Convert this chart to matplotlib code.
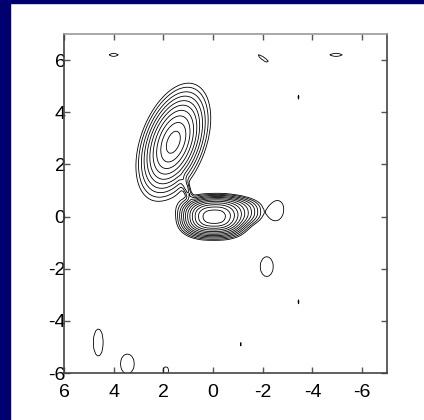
import numpy as np
import matplotlib
matplotlib.use("Agg")
import matplotlib.pyplot as plt
from matplotlib.patches import Rectangle

# Source components of the brightness map (x, y in axis units, angle in degrees)
# k: shape of the iso-lines (2 = ellipse, >2 = boxier), p: radial fall-off (2 = gaussian)
comp_x = [1.60, 1.05, -0.02, -0.55, 4.00, -2.03, -4.95, -3.43, -2.57, -2.16, -3.43, 4.62, 3.45, 1.90, -1.10]
comp_y = [2.85, 1.05, -0.03, 0.20, 6.20, 6.05, 6.20, 4.58, 0.23, -1.92, -3.27, -4.83, -5.65, -5.90, -4.90]
comp_amp = [0.38, 0.035, 0.70, 0.10, 0.025, 0.025, 0.025, 0.022, 0.024, 0.024, 0.022, 0.024, 0.024, 0.025, 0.022]
comp_sx = [0.84, 0.30, 0.56, 0.98, 0.27, 0.40, 0.37, 0.08, 0.35, 0.34, 0.08, 0.26, 0.36, 0.17, 0.08]
comp_sy = [0.46, 0.08, 0.33, 0.38, 0.10, 0.09, 0.10, 0.20, 0.49, 0.49, 0.20, 0.67, 0.49, 0.21, 0.20]
comp_ang = [112, 68, 0, 0, 0, 34, 0, 0, 10, 0, 0, 0, 0, 0, 0]
comp_k = [2.0, 2.0, 2.5, 2.5, 2, 2, 2, 2, 2, 2, 2, 2, 2, 2, 2]
comp_p = [1.7, 2.0, 2.0, 3.0, 2, 2, 2, 2, 4, 4, 2, 4, 4, 2, 2]

levels = [0.02, 0.028, 0.04, 0.055, 0.075, 0.10, 0.135, 0.18, 0.24, 0.32, 0.43, 0.58, 0.78]

xticks = [6, 4, 2, 0, -2, -4, -6]
yticks = [-6, -4, -2, 0, 2, 4, 6]

gx = np.arange(-7.2, 6.3, 0.08)
gy = np.arange(-6.2, 7.2, 0.08)
X, Y = np.meshgrid(gx, gy)
Z = np.zeros_like(X)
for x0, y0, a, sx, sy, ang, k, p in zip(comp_x, comp_y, comp_amp, comp_sx, comp_sy,
                                        comp_ang, comp_k, comp_p):
    t = np.deg2rad(ang)
    dx, dy = X - x0, Y - y0
    u = dx * np.cos(t) + dy * np.sin(t)
    v = -dx * np.sin(t) + dy * np.cos(t)
    q = (np.abs(u / sx) ** k + np.abs(v / sy) ** k) ** (1.0 / k)
    Z += a * np.exp(-0.5 * q ** p)

plt.rcParams["font.family"] = ["Liberation Sans", "DejaVu Sans"]
fig = plt.figure(figsize=(4.24, 4.20), dpi=100)
fig.patch.set_facecolor("white")
fig.patches.append(Rectangle((0, 0), 10 / 424, 1, transform=fig.transFigure,
                             color="#000070", zorder=0))
fig.patches.append(Rectangle((0, 1 - 3 / 420), 1, 3 / 420, transform=fig.transFigure,
                             color="#000070", zorder=0))

ax = fig.add_axes([64 / 424, 47 / 420, 323 / 424, 339 / 420])
ax.contour(X, Y, Z, levels=levels, colors="black", linewidths=0.6)
ax.set_xlim(6, -7)
ax.set_ylim(-6, 7)
ax.set_xticks(xticks)
ax.set_yticks(yticks)
ax.set_xticklabels([str(v) for v in xticks])
ax.set_yticklabels([str(v) for v in yticks])
ax.tick_params(direction="in", length=4, width=1, colors="#555555",
               labelcolor="black", labelsize=14, top=True, right=True)
ax.tick_params(axis="y", pad=-1)
ax.tick_params(axis="x", pad=8)
for name, sp in ax.spines.items():
    sp.set_color("#999999" if name == "top" else "#444444")
    sp.set_linewidth(1.2)

fig.savefig("out.png", dpi=100)
